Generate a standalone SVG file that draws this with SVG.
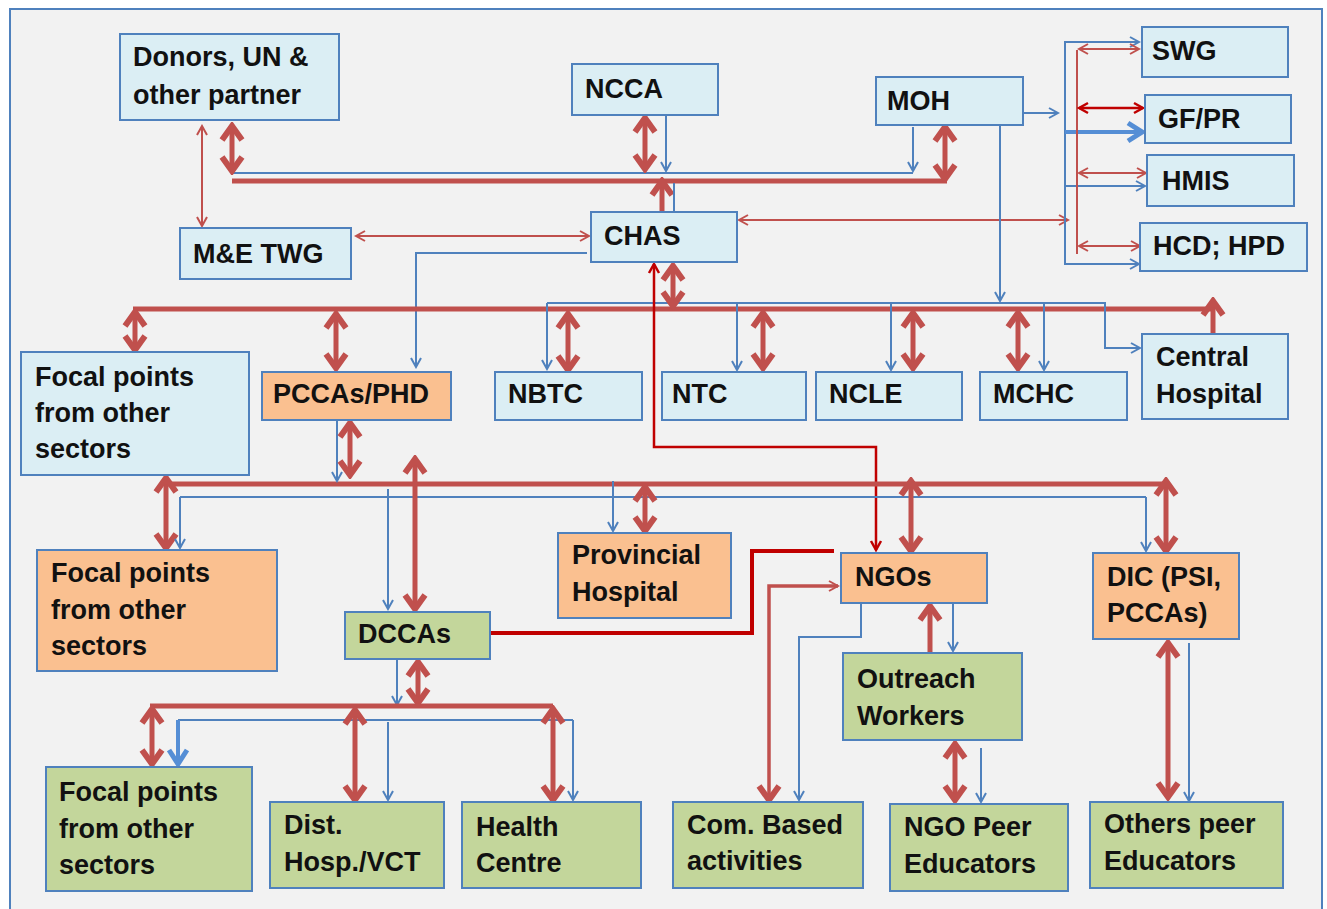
<svg xmlns="http://www.w3.org/2000/svg" width="1327" height="909" viewBox="0 0 1327 909">
<style>
.b{fill:#dbeef4;stroke:#4f81bd;stroke-width:2}
.o{fill:#fac090;stroke:#4f81bd;stroke-width:2}
.g{fill:#c3d69b;stroke:#4f81bd;stroke-width:2}
text{font-family:"Liberation Sans",Arial,sans-serif;font-weight:bold;font-size:27px;fill:#111}
.rt{fill:none;stroke:#c0504d;stroke-width:5}
.rs{fill:none;stroke:#c0504d;stroke-width:2}
.dr{fill:none;stroke:#c00000;stroke-width:2.5}
.bl{fill:none;stroke:#4f81bd;stroke-width:2}
.bt{fill:none;stroke:#558ed5;stroke-width:4}
</style>
<defs>
<marker id="mr" viewBox="-18 -14 22 28" refX="0" refY="0" markerWidth="22" markerHeight="28" markerUnits="userSpaceOnUse" orient="auto-start-reverse">
<path d="M-14,-10 L0,0 L-14,10" fill="none" stroke="#c0504d" stroke-width="6"/>
</marker>
<marker id="ms" viewBox="-11 -7 13 14" refX="0" refY="0" markerWidth="13" markerHeight="14" markerUnits="userSpaceOnUse" orient="auto-start-reverse">
<path d="M-9,-5 L0,0 L-9,5" fill="none" stroke="#c0504d" stroke-width="2"/>
</marker>
<marker id="md" viewBox="-11 -7 13 14" refX="0" refY="0" markerWidth="13" markerHeight="14" markerUnits="userSpaceOnUse" orient="auto-start-reverse">
<path d="M-9,-5 L0,0 L-9,5" fill="none" stroke="#c00000" stroke-width="2.5"/>
</marker>
<marker id="mb" viewBox="-11 -7 13 14" refX="0" refY="0" markerWidth="13" markerHeight="14" markerUnits="userSpaceOnUse" orient="auto-start-reverse">
<path d="M-9,-5 L0,0 L-9,5" fill="none" stroke="#4f81bd" stroke-width="2"/>
</marker>
<marker id="mbt" viewBox="-18 -12 20 24" refX="0" refY="0" markerWidth="20" markerHeight="24" markerUnits="userSpaceOnUse" orient="auto-start-reverse">
<path d="M-14,-9 L0,0 L-14,9" fill="none" stroke="#558ed5" stroke-width="5"/>
</marker>
</defs>
<rect x="0" y="0" width="1327" height="909" fill="#ffffff"/>
<rect x="10" y="9" width="1312" height="912" fill="#f2f2f2" stroke="#4f81bd" stroke-width="2"/>

<g id="connectors">
<!-- top -->
<path class="rs" d="M202,126 V226" marker-start="url(#ms)" marker-end="url(#ms)"/>
<path class="bl" d="M232,173 H913"/>
<path class="rt" d="M232,181 H947"/>
<path class="rt" d="M232,126 V171" marker-start="url(#mr)" marker-end="url(#mr)"/>
<path class="rt" d="M645,118 V169" marker-start="url(#mr)" marker-end="url(#mr)"/>
<path class="bl" d="M666,114 V171" marker-end="url(#mb)"/>
<path class="bl" d="M913,127 V171" marker-end="url(#mb)"/>
<path class="rt" d="M945,127 V179" marker-start="url(#mr)" marker-end="url(#mr)"/>
<path class="rt" d="M662,220 V181" marker-end="url(#mr)"/>
<path class="bl" d="M674,183 V227" marker-end="url(#mb)"/>
<path class="rs" d="M356,236 H589" marker-start="url(#ms)" marker-end="url(#ms)"/>
<path class="bl" d="M587,253 H416 V367" marker-end="url(#mb)"/>
<path class="rs" d="M739,220 H1068" marker-start="url(#ms)" marker-end="url(#ms)"/>
<path class="bl" d="M1023,113 H1058" marker-end="url(#mb)"/>
<path class="bl" d="M1065,41 V265"/>
<path class="bl" d="M1065,42 H1139" marker-end="url(#mb)"/>
<path class="bt" d="M1065,132 H1142" marker-end="url(#mbt)"/>
<path class="bl" d="M1065,186 H1145" marker-end="url(#mb)"/>
<path class="bl" d="M1065,264 H1139" marker-end="url(#mb)"/>
<path class="rs" d="M1077,50 V254"/>
<path class="rs" d="M1079,49 H1139" marker-start="url(#ms)" marker-end="url(#ms)"/>
<path class="dr" d="M1079,108 H1143" marker-start="url(#md)" marker-end="url(#md)"/>
<path class="rs" d="M1079,173 H1146" marker-start="url(#ms)" marker-end="url(#ms)"/>
<path class="rs" d="M1079,246 H1140" marker-start="url(#ms)" marker-end="url(#ms)"/>
<!-- row 2 -->
<path class="bl" d="M1000,126 V301" marker-end="url(#mb)"/>
<path class="rt" d="M133,309 H1213"/>
<path class="rt" d="M1213,333 V301" marker-end="url(#mr)"/>
<path class="bl" d="M547,303 H1105 V348 H1140" marker-end="url(#mb)"/>
<path class="bl" d="M547,303 V369" marker-end="url(#mb)"/>
<path class="bl" d="M737,303 V370" marker-end="url(#mb)"/>
<path class="bl" d="M891,303 V370" marker-end="url(#mb)"/>
<path class="bl" d="M1044,303 V370" marker-end="url(#mb)"/>
<path class="rt" d="M673,266 V306" marker-start="url(#mr)" marker-end="url(#mr)"/>
<path class="dr" d="M654,264 V447 H876 V550" marker-start="url(#md)" marker-end="url(#md)"/>
<path class="rt" d="M135,312 V350" marker-start="url(#mr)" marker-end="url(#mr)"/>
<path class="rt" d="M336,314 V368" marker-start="url(#mr)" marker-end="url(#mr)"/>
<path class="rt" d="M568,314 V370" marker-start="url(#mr)" marker-end="url(#mr)"/>
<path class="rt" d="M763,313 V368" marker-start="url(#mr)" marker-end="url(#mr)"/>
<path class="rt" d="M913,313 V368" marker-start="url(#mr)" marker-end="url(#mr)"/>
<path class="rt" d="M1018,313 V368" marker-start="url(#mr)" marker-end="url(#mr)"/>
<!-- row 3 -->
<path class="rt" d="M166,484 H1166"/>
<path class="bl" d="M180,497 H1146"/>
<path class="bl" d="M337,420 V481" marker-end="url(#mb)"/>
<path class="rt" d="M350,423 V475" marker-start="url(#mr)" marker-end="url(#mr)"/>
<path class="rt" d="M166,478 V548" marker-start="url(#mr)" marker-end="url(#mr)"/>
<path class="bl" d="M180,497 V548" marker-end="url(#mb)"/>
<path class="bl" d="M388,489 V609" marker-end="url(#mb)"/>
<path class="rt" d="M415,459 V609" marker-start="url(#mr)" marker-end="url(#mr)"/>
<path class="bl" d="M613,481 V531" marker-end="url(#mb)"/>
<path class="rt" d="M645,487 V531" marker-start="url(#mr)" marker-end="url(#mr)"/>
<path class="rt" d="M911,481 V551" marker-start="url(#mr)" marker-end="url(#mr)"/>
<path class="bl" d="M1146,497 V551" marker-end="url(#mb)"/>
<path class="rt" d="M1166,481 V551" marker-start="url(#mr)" marker-end="url(#mr)"/>
<path d="M490,633 H752 V551 H834" fill="none" stroke="#c00000" stroke-width="4"/>
<path d="M838,586 H769 V800" fill="none" stroke="#c0504d" stroke-width="3.5" marker-start="url(#ms)" marker-end="url(#mr)"/>
<path class="bl" d="M861,603 V637 H799 V800" marker-end="url(#mb)"/>
<path class="rt" d="M930,653 V606" marker-end="url(#mr)"/>
<path class="bl" d="M953,603 V651" marker-end="url(#mb)"/>
<path class="rt" d="M955,744 V800" marker-start="url(#mr)" marker-end="url(#mr)"/>
<path class="bl" d="M981,748 V802" marker-end="url(#mb)"/>
<path class="rt" d="M1168,643 V797" marker-start="url(#mr)" marker-end="url(#mr)"/>
<path class="bl" d="M1189,643 V801" marker-end="url(#mb)"/>
<!-- row 4 -->
<path class="bl" d="M397,659 V705" marker-end="url(#mb)"/>
<path class="rt" d="M418,662 V703" marker-start="url(#mr)" marker-end="url(#mr)"/>
<path class="rt" d="M150,706 H553"/>
<path class="bl" d="M178,720 H573"/>
<path class="rt" d="M152,709 V764" marker-start="url(#mr)" marker-end="url(#mr)"/>
<path class="bt" d="M178,720 V764" marker-end="url(#mbt)"/>
<path class="rt" d="M355,710 V800" marker-start="url(#mr)" marker-end="url(#mr)"/>
<path class="bl" d="M388,722 V800" marker-end="url(#mb)"/>
<path class="rt" d="M553,709 V800" marker-start="url(#mr)" marker-end="url(#mr)"/>
<path class="bl" d="M573,720 V800" marker-end="url(#mb)"/>
</g>

<g id="donors"><rect class="b" x="120" y="34" width="219" height="86"/><text x="133" y="66">Donors, UN &amp;</text><text x="133" y="104">other partner</text></g>
<g id="metwg"><rect class="b" x="180" y="228" width="171" height="51"/><text x="193" y="263">M&amp;E TWG</text></g>
<g id="ncca"><rect class="b" x="572" y="64" width="146" height="51"/><text x="585" y="98">NCCA</text></g>
<g id="chas"><rect class="b" x="591" y="212" width="146" height="50"/><text x="604" y="245">CHAS</text></g>
<g id="moh"><rect class="b" x="876" y="77" width="147" height="48"/><text x="887" y="110">MOH</text></g>
<g id="swg"><rect class="b" x="1142" y="27" width="146" height="50"/><text x="1152" y="60">SWG</text></g>
<g id="gfpr"><rect class="b" x="1145" y="95" width="146" height="48"/><text x="1158" y="128">GF/PR</text></g>
<g id="hmis"><rect class="b" x="1147" y="155" width="147" height="51"/><text x="1162" y="190">HMIS</text></g>
<g id="hcd"><rect class="b" x="1140" y="223" width="167" height="48"/><text x="1153" y="255">HCD; HPD</text></g>

<g id="focal1"><rect class="b" x="21" y="352" width="228" height="123"/><text x="35" y="386">Focal points</text><text x="35" y="422">from other</text><text x="35" y="458">sectors</text></g>
<g id="pccas"><rect class="o" x="262" y="372" width="189" height="48"/><text x="273" y="403">PCCAs/PHD</text></g>
<g id="nbtc"><rect class="b" x="495" y="372" width="147" height="48"/><text x="508" y="403">NBTC</text></g>
<g id="ntc"><rect class="b" x="662" y="372" width="144" height="48"/><text x="672" y="403">NTC</text></g>
<g id="ncle"><rect class="b" x="816" y="372" width="146" height="48"/><text x="829" y="403">NCLE</text></g>
<g id="mchc"><rect class="b" x="980" y="372" width="147" height="48"/><text x="993" y="403">MCHC</text></g>
<g id="central"><rect class="b" x="1142" y="334" width="146" height="85"/><text x="1156" y="366">Central</text><text x="1156" y="403">Hospital</text></g>

<g id="focal2"><rect class="o" x="37" y="550" width="240" height="121"/><text x="51" y="582">Focal points</text><text x="51" y="619">from other</text><text x="51" y="655">sectors</text></g>
<g id="provincial"><rect class="o" x="558" y="533" width="173" height="85"/><text x="572" y="564">Provincial</text><text x="572" y="601">Hospital</text></g>
<g id="ngos"><rect class="o" x="841" y="553" width="146" height="50"/><text x="855" y="586">NGOs</text></g>
<g id="dic"><rect class="o" x="1093" y="553" width="146" height="86"/><text x="1107" y="586">DIC (PSI,</text><text x="1107" y="622">PCCAs)</text></g>
<g id="dccas"><rect class="g" x="345" y="612" width="145" height="47"/><text x="358" y="643">DCCAs</text></g>
<g id="outreach"><rect class="g" x="843" y="653" width="179" height="87"/><text x="857" y="688">Outreach</text><text x="857" y="725">Workers</text></g>

<g id="focal3"><rect class="g" x="46" y="767" width="206" height="124"/><text x="59" y="801">Focal points</text><text x="59" y="838">from other</text><text x="59" y="874">sectors</text></g>
<g id="disthosp"><rect class="g" x="270" y="802" width="174" height="86"/><text x="284" y="834">Dist.</text><text x="284" y="871">Hosp./VCT</text></g>
<g id="health"><rect class="g" x="462" y="802" width="179" height="86"/><text x="476" y="836">Health</text><text x="476" y="872">Centre</text></g>
<g id="combased"><rect class="g" x="673" y="802" width="190" height="86"/><text x="687" y="834">Com. Based</text><text x="687" y="870">activities</text></g>
<g id="ngopeer"><rect class="g" x="890" y="804" width="178" height="87"/><text x="904" y="836">NGO Peer</text><text x="904" y="873">Educators</text></g>
<g id="otherspeer"><rect class="g" x="1090" y="802" width="193" height="86"/><text x="1104" y="833">Others peer</text><text x="1104" y="870">Educators</text></g>
</svg>
